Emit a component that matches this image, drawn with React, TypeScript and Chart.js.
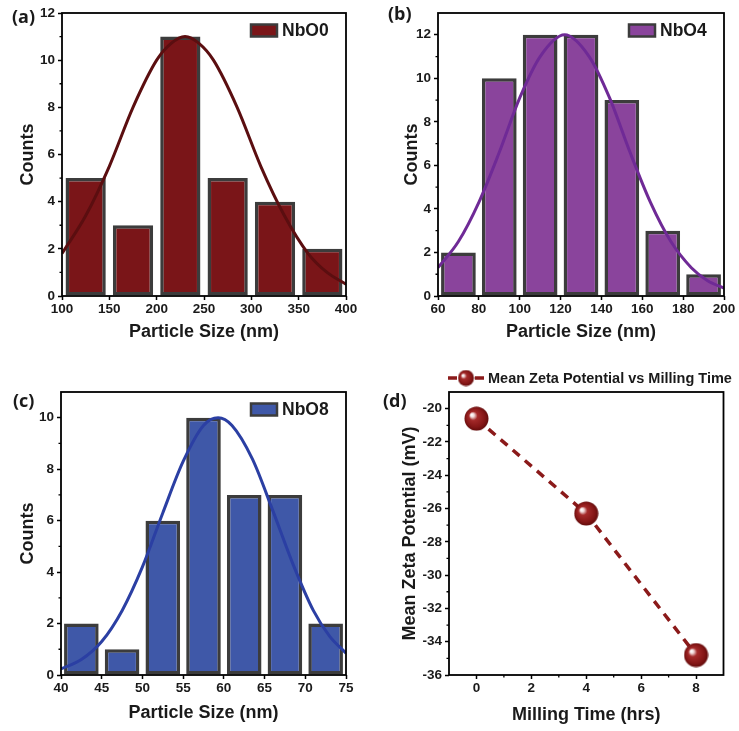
import React, { useEffect, useRef } from 'react';
import { Chart, registerables } from 'chart.js';

Chart.register(...registerables);

const AXIS_FONT = "'Liberation Sans', Arial, Helvetica, sans-serif";
const PANEL_FONT = "'Open Sans', 'Noto Sans', sans-serif";

// ---------------- data ----------------
// (a) NbO0
const nbo0BinCenters = [125, 175, 225, 275, 325, 375];
const nbo0Counts = [5, 3, 11, 5, 4, 2];
const nbo0FitX = [100, 125, 150, 175, 200, 215, 230, 245, 260, 285, 310, 335, 360, 380, 400];
const nbo0FitY = [1.8, 3.4, 5.5, 8.0, 10.0, 10.7, 11.0, 10.7, 10.0, 8.0, 5.5, 3.4, 1.8, 1.0, 0.5];
const nbo0XTicks = [100, 150, 200, 250, 300, 350, 400];
const nbo0YTicks = [0, 2, 4, 6, 8, 10, 12];
const nbo0YMinor = [1, 3, 5, 7, 9, 11];

// (b) NbO4
const nbo4BinCenters = [70, 90, 110, 130, 150, 170, 190];
const nbo4Counts = [2, 10, 12, 12, 9, 3, 1];
const nbo4FitX = [60, 70, 80, 90, 100, 110, 122, 134, 144, 154, 164, 174, 184, 192, 200];
const nbo4FitY = [1.3, 2.5, 4.3, 6.6, 9.1, 11.0, 12.0, 11.0, 9.1, 6.6, 4.3, 2.5, 1.3, 0.7, 0.36];
const nbo4XTicks = [60, 80, 100, 120, 140, 160, 180, 200];
const nbo4YTicks = [0, 2, 4, 6, 8, 10, 12];
const nbo4YMinor = [1, 3, 5, 7, 9, 11];

// (c) NbO8
const nbo8BinCenters = [42.5, 47.5, 52.5, 57.5, 62.5, 67.5, 72.5];
const nbo8Counts = [2, 1, 6, 10, 7, 7, 2];
const nbo8FitX = [40, 42.5, 45, 47.5, 50, 52.5, 55, 57.5, 59.3, 61, 63.5, 66, 68.5, 71, 73, 75];
const nbo8FitY = [0.24, 0.6, 1.3, 2.5, 4.2, 6.3, 8.3, 9.7, 10.0, 9.7, 8.4, 6.4, 4.3, 2.5, 1.5, 0.85];
const nbo8XTicks = [40, 45, 50, 55, 60, 65, 70, 75];
const nbo8YTicks = [0, 2, 4, 6, 8, 10];
const nbo8YMinor = [1, 3, 5, 7, 9];

// (d) Zeta potential
const millingHours = [0, 4, 8];
const zetaMV = [-20.6, -26.3, -34.8];
const zetaXTicks = [0, 2, 4, 6, 8];
const zetaXMinor = [1, 3, 5, 7];
const zetaYTicks = [-36, -34, -32, -30, -28, -26, -24, -22, -20];
const zetaYMinor = [-35, -33, -31, -29, -27, -25, -23, -21];

// ---------------- helpers ----------------
function axisOpts(o: {
  min: number; max: number; ticks: number[]; title: string; titlePad: number; fitSize: number; isX: boolean;
}) {
  return {
    type: 'linear',
    min: o.min,
    max: o.max,
    offset: false,
    afterBuildTicks: (s: any) => {
      s.ticks = o.ticks.map((v) => ({ value: v }));
    },
    afterFit: (s: any) => {
      if (o.isX) s.height = o.fitSize;
      else s.width = o.fitSize;
    },
    grid: {
      display: true,
      drawOnChartArea: false,
      drawTicks: true,
      tickLength: 4,
      tickWidth: 1.5,
      tickColor: '#000',
      offset: false,
    },
    border: { display: false },
    ticks: {
      color: '#1a1a1a',
      padding: o.isX ? 1 : 3,
      maxRotation: 0,
      autoSkip: false,
      font: { family: AXIS_FONT, size: 13.5, weight: 'bold' },
    },
    title: {
      display: true,
      text: o.title,
      color: '#1a1a1a',
      font: { family: AXIS_FONT, size: 18, weight: 'bold' },
      padding: o.isX ? { top: 0, bottom: o.titlePad } : { top: o.titlePad, bottom: 0 },
    },
  };
}

function framePlugin(minorX: number[], minorY: number[]) {
  return {
    id: 'frame',
    afterDraw(chart: any) {
      const { ctx, chartArea: a, scales } = chart;
      ctx.save();
      ctx.strokeStyle = '#000';
      ctx.lineWidth = 1.8;
      ctx.strokeRect(a.left, a.top, a.right - a.left, a.bottom - a.top);
      ctx.lineWidth = 1.3;
      ctx.beginPath();
      for (const v of minorY) {
        const y = scales.y.getPixelForValue(v);
        ctx.moveTo(a.left - 2.5, y);
        ctx.lineTo(a.left, y);
      }
      for (const v of minorX) {
        const x = scales.x.getPixelForValue(v);
        ctx.moveTo(x, a.bottom);
        ctx.lineTo(x, a.bottom + 2.5);
      }
      ctx.stroke();
      ctx.restore();
    },
  };
}

function histLegendPlugin(fill: string) {
  return {
    id: 'histLegend',
    afterDraw(chart: any) {
      const { ctx, chartArea: a } = chart;
      const ds = chart.data.datasets.find((d: any) => d.type === 'bar');
      const bx = a.right - 95;
      const cy = a.top + 17.5;
      ctx.save();
      ctx.fillStyle = fill;
      ctx.strokeStyle = '#3c3c3c';
      ctx.lineWidth = 2.5;
      ctx.fillRect(bx, cy - 6, 26, 12);
      ctx.strokeRect(bx, cy - 6, 26, 12);
      ctx.fillStyle = '#1a1a1a';
      ctx.font = `bold 17.5px ${AXIS_FONT}`;
      ctx.textBaseline = 'middle';
      ctx.textAlign = 'left';
      ctx.fillText(ds.label, bx + 31, cy + 0.5);
      ctx.restore();
    },
  };
}

function makeSphere(d: number) {
  const c = document.createElement('canvas');
  c.width = d;
  c.height = d;
  const g = c.getContext('2d')!;
  const r = d / 2;
  const grad = g.createRadialGradient(r * 0.62, r * 0.68, r * 0.04, r, r, r);
  grad.addColorStop(0, '#ffffff');
  grad.addColorStop(0.12, '#f0d8d8');
  grad.addColorStop(0.32, '#a52a2a');
  grad.addColorStop(0.75, '#841616');
  grad.addColorStop(1, '#5e0a0a');
  g.fillStyle = grad;
  g.beginPath();
  g.arc(r, r, r - 0.5, 0, Math.PI * 2);
  g.fill();
  return c;
}

type HistSpec = {
  label: string;
  barFill: string;
  fitColor: string;
  centers: number[];
  counts: number[];
  fitX: number[];
  fitY: number[];
  xMin: number;
  xMax: number;
  yMax: number;
  xTicks: number[];
  yTicks: number[];
  yMinor: number[];
  padRight: number;
  padTop: number;
  yWidth: number;
  xHeight: number;
  yTitlePad: number;
  xTitlePad: number;
};

function histConfig(s: HistSpec) {
  return {
    type: 'bar',
    data: {
      datasets: [
        {
          type: 'line',
          label: 'Gaussian fit',
          data: s.fitX.map((x, i) => ({ x, y: s.fitY[i] })),
          borderColor: s.fitColor,
          borderWidth: 3,
          pointRadius: 0,
          cubicInterpolationMode: 'monotone',
          fill: false,
          order: 1,
        },
        {
          type: 'bar',
          label: s.label,
          data: s.centers.map((x, i) => ({ x, y: s.counts[i] })),
          backgroundColor: s.barFill,
          borderColor: '#3c3c3c',
          borderWidth: 3.5,
          borderSkipped: false,
          categoryPercentage: 1,
          barPercentage: 0.85,
          order: 2,
        },
      ],
    },
    options: {
      responsive: false,
      animation: false,
      layout: { padding: { left: 0, right: s.padRight, top: s.padTop, bottom: 0 } },
      plugins: { legend: { display: false }, tooltip: { enabled: false } },
      scales: {
        x: axisOpts({ min: s.xMin, max: s.xMax, ticks: s.xTicks, title: 'Particle Size (nm)', titlePad: s.xTitlePad, fitSize: s.xHeight, isX: true }),
        y: axisOpts({ min: 0, max: s.yMax, ticks: s.yTicks, title: 'Counts', titlePad: s.yTitlePad, fitSize: s.yWidth, isX: false }),
      },
    },
    plugins: [framePlugin([], s.yMinor), histLegendPlugin(s.barFill)],
  };
}

function zetaConfig() {
  const sphere = makeSphere(25);
  const sphereSmall = makeSphere(17);
  return {
    type: 'line',
    data: {
      datasets: [
        {
          label: 'Mean Zeta Potential vs Milling Time',
          data: millingHours.map((x, i) => ({ x, y: zetaMV[i] })),
          borderColor: '#8B1A1A',
          borderWidth: 3.5,
          borderDash: [9, 7],
          pointStyle: sphere,
          pointRadius: 12,
          pointHoverRadius: 12,
          tension: 0,
          fill: false,
        },
      ],
    },
    options: {
      responsive: false,
      animation: false,
      layout: { padding: { left: 0, right: 6, top: 32, bottom: 0 } },
      plugins: { legend: { display: false }, tooltip: { enabled: false } },
      scales: {
        x: axisOpts({ min: -1, max: 9, ticks: zetaXTicks, title: 'Milling Time (hrs)', titlePad: 5, fitSize: 56, isX: true }),
        y: axisOpts({ min: -36, max: -19, ticks: zetaYTicks, title: 'Mean Zeta Potential (mV)', titlePad: 29, fitSize: 79, isX: false }),
      },
    },
    plugins: [
      framePlugin(zetaXMinor, zetaYMinor),
      {
        id: 'zetaLegend',
        afterDraw(chart: any) {
          const { ctx, chartArea: a } = chart;
          const cy = a.top - 14;
          const x0 = a.left - 1;
          ctx.save();
          ctx.strokeStyle = '#8B1A1A';
          ctx.lineWidth = 3.5;
          ctx.beginPath();
          ctx.moveTo(x0, cy);
          ctx.lineTo(x0 + 9, cy);
          ctx.moveTo(x0 + 27, cy);
          ctx.lineTo(x0 + 36, cy);
          ctx.stroke();
          ctx.drawImage(sphereSmall, x0 + 9.5, cy - 8.5, 17, 17);
          ctx.fillStyle = '#1a1a1a';
          ctx.font = `bold 14.5px ${AXIS_FONT}`;
          ctx.textBaseline = 'middle';
          ctx.textAlign = 'left';
          ctx.fillText(chart.data.datasets[0].label, x0 + 40, cy + 0.5);
          ctx.restore();
        },
      },
    ],
  };
}

function ChartBox(props: { make: () => any; left: number; top: number; width: number; height: number }) {
  const ref = useRef<HTMLCanvasElement>(null);
  useEffect(() => {
    const chart = new Chart(ref.current as HTMLCanvasElement, props.make());
    return () => chart.destroy();
  }, []);
  return (
    <div style={{ position: 'absolute', left: props.left, top: props.top, width: props.width, height: props.height }}>
      <canvas ref={ref} width={props.width} height={props.height} style={{ display: 'block', width: props.width, height: props.height }} />
    </div>
  );
}

function PanelLabel(props: { text: string; left: number; top: number }) {
  return (
    <div
      style={{
        position: 'absolute',
        left: props.left,
        top: props.top,
        font: `700 18px ${PANEL_FONT}`,
        lineHeight: '20px',
        color: '#1a1a1a',
        whiteSpace: 'nowrap',
      }}
    >
      {props.text}
    </div>
  );
}

export default function App() {
  return (
    <div style={{ position: 'absolute', left: 0, top: 0, width: 739, height: 731, background: '#fff', overflow: 'hidden' }}>
      <ChartBox
        left={0}
        top={0}
        width={370}
        height={350}
        make={() =>
          histConfig({
            label: 'NbO0',
            barFill: '#7A1518',
            fitColor: '#5B0E10',
            centers: nbo0BinCenters,
            counts: nbo0Counts,
            fitX: nbo0FitX,
            fitY: nbo0FitY,
            xMin: 100,
            xMax: 400,
            yMax: 12,
            xTicks: nbo0XTicks,
            yTicks: nbo0YTicks,
            yMinor: nbo0YMinor,
            padRight: 24,
            padTop: 13,
            yWidth: 62,
            xHeight: 54,
            yTitlePad: 17,
            xTitlePad: 7,
          })
        }
      />
      <ChartBox
        left={370}
        top={0}
        width={369}
        height={350}
        make={() =>
          histConfig({
            label: 'NbO4',
            barFill: '#8A449C',
            fitColor: '#6F2A96',
            centers: nbo4BinCenters,
            counts: nbo4Counts,
            fitX: nbo4FitX,
            fitY: nbo4FitY,
            xMin: 60,
            xMax: 200,
            yMax: 13,
            xTicks: nbo4XTicks,
            yTicks: nbo4YTicks,
            yMinor: nbo4YMinor,
            padRight: 15,
            padTop: 13,
            yWidth: 68,
            xHeight: 54,
            yTitlePad: 31,
            xTitlePad: 7,
          })
        }
      />
      <ChartBox
        left={0}
        top={360}
        width={370}
        height={371}
        make={() =>
          histConfig({
            label: 'NbO8',
            barFill: '#3F58A8',
            fitColor: '#2B3FA3',
            centers: nbo8BinCenters,
            counts: nbo8Counts,
            fitX: nbo8FitX,
            fitY: nbo8FitY,
            xMin: 40,
            xMax: 75,
            yMax: 11,
            xTicks: nbo8XTicks,
            yTicks: nbo8YTicks,
            yMinor: nbo8YMinor,
            padRight: 24,
            padTop: 32,
            yWidth: 61,
            xHeight: 56,
            yTitlePad: 17,
            xTitlePad: 7,
          })
        }
      />
      <ChartBox left={370} top={360} width={369} height={371} make={zetaConfig} />
      <PanelLabel text="(a)" left={12} top={6} />
      <PanelLabel text="(b)" left={388} top={3} />
      <PanelLabel text="(c)" left={13} top={390} />
      <PanelLabel text="(d)" left={383} top={390} />
    </div>
  );
}
